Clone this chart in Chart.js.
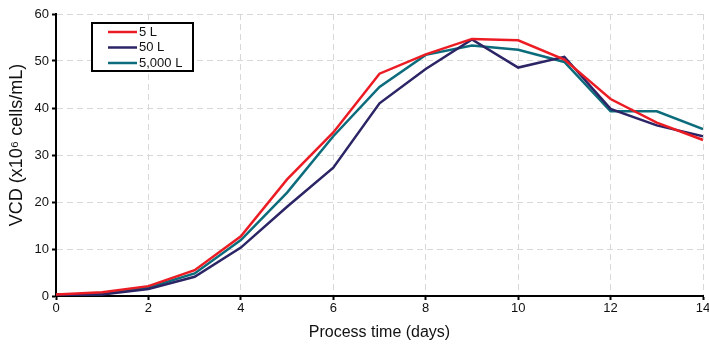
<!DOCTYPE html>
<html>
<head>
<meta charset="utf-8">
<script src="https://cdn.jsdelivr.net/npm/chart.js@4/dist/chart.umd.min.js"></script>
<style>
  html, body { margin: 0; padding: 0; background: #fff; }
  #wrap { width: 709px; height: 346px; }
</style>
</head>
<body>
<div id="wrap"><canvas id="c"></canvas></div>
<script>
// process day, VCD (x10^6 cells/mL) per bioreactor scale
const days = [0, 1, 2, 3, 4, 5, 6, 7, 8, 9, 10, 11, 12, 13, 14];
const vcd5L = [0.3, 0.8, 2.1, 5.5, 12.7, 24.8, 34.8, 47.3, 51.4, 54.7, 54.4, 50.3, 41.9, 36.9, 33.2];
const vcd50L = [0.2, 0.3, 1.5, 4.1, 10.3, 19.0, 27.3, 41.0, 48.3, 54.6, 48.6, 50.9, 39.8, 36.3, 34.0];
const vcd5000L = [0.3, 0.4, 1.8, 4.8, 11.9, 22.0, 34.0, 44.5, 51.3, 53.3, 52.4, 49.8, 39.3, 39.3, 35.5];
const labels = ['5 L', '50 L', '5,000 L'];
const colors = ['#ec1c24', '#2b2565', '#0c6c7c'];
const yTitle = 'VCD (x10\u2076 cells/mL)';

const series = [vcd5L, vcd50L, vcd5000L];
const FONT = 'Liberation Sans, Arial, sans-serif';

// legend box inside the plot + y title (sits a bit above the axis middle)
const extras = {
  id: 'extras',
  afterDraw(chart) {
    const ctx = chart.ctx;
    ctx.save();
    ctx.fillStyle = '#fff';
    ctx.fillRect(92, 23, 101, 48);
    ctx.strokeStyle = '#000';
    ctx.lineWidth = 2;
    ctx.strokeRect(92, 23, 101, 48);
    ctx.font = '13px ' + FONT;
    ctx.textBaseline = 'middle';
    chart.data.datasets.forEach((ds, i) => {
      const y = 32 + i * 15.5;
      ctx.strokeStyle = ds.borderColor;
      ctx.lineWidth = 2.5;
      ctx.beginPath();
      ctx.moveTo(108, y);
      ctx.lineTo(137, y);
      ctx.stroke();
      ctx.fillStyle = '#111';
      ctx.fillText(ds.label, 139, y);
    });
    ctx.translate(17, 145);
    ctx.rotate(-Math.PI / 2);
    ctx.font = '18px ' + FONT;
    ctx.textAlign = 'center';
    ctx.fillStyle = '#111';
    ctx.fillText(yTitle, 0, 0);
    ctx.restore();
  }
};

new Chart(document.getElementById('c'), {
  type: 'line',
  data: {
    datasets: series.map((s, i) => ({
      label: labels[i],
      data: days.map((d, j) => ({ x: d, y: s[j] })),
      borderColor: colors[i],
      borderWidth: 2.5,
      pointRadius: 0,
      tension: 0,
      fill: false
    }))
  },
  options: {
    responsive: true,
    maintainAspectRatio: false,
    animation: false,
    layout: { padding: { left: 0, right: 6, top: 14, bottom: 0 } },
    plugins: { legend: { display: false }, tooltip: { enabled: false } },
    scales: {
      x: {
        type: 'linear',
        min: 0, max: 14,
        ticks: { stepSize: 2, color: '#111', font: { size: 13, family: FONT }, padding: 1, maxRotation: 0 },
        grid: { color: '#d8d8d8', lineWidth: 1, tickColor: '#000', tickLength: 4, tickWidth: 2 },
        border: { color: '#000', width: 2, dash: [6, 4] },
        title: { display: true, text: 'Process time (days)', color: '#111', font: { size: 16, family: FONT }, padding: { top: 0 } },
        afterFit(scale) { scale.height = 50; scale.paddingRight = 6; }
      },
      y: {
        min: 0, max: 60,
        ticks: { stepSize: 10, color: '#111', font: { size: 13, family: FONT }, padding: 3 },
        grid: { color: '#d8d8d8', lineWidth: 1, tickColor: '#000', tickLength: 4, tickWidth: 2 },
        border: { color: '#000', width: 2, dash: [6, 4] },
        afterFit(scale) { scale.width = 56; }
      }
    }
  },
  plugins: [extras]
});
</script>
</body>
</html>
